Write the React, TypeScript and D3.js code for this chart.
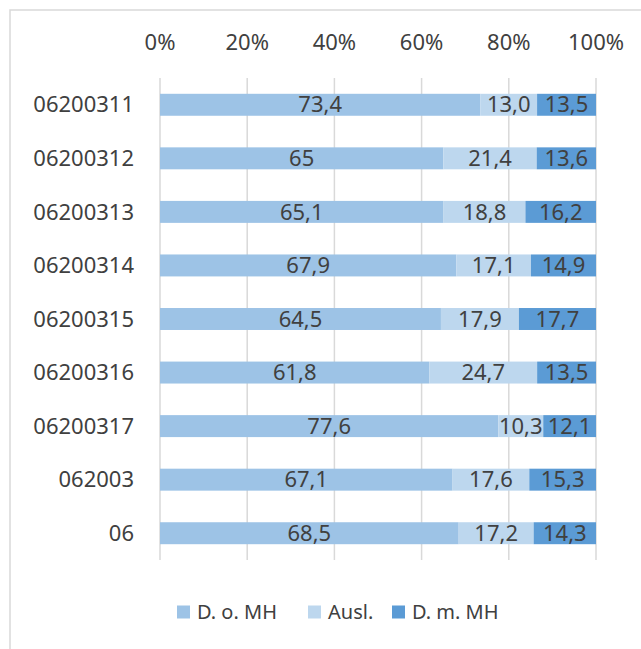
import React, { useEffect, useRef } from "react";
import * as d3 from "d3";

const categories = ["06200311", "06200312", "06200313", "06200314", "06200315", "06200316", "06200317", "062003", "06"];
const seriesNames = ["D. o. MH", "Ausl.", "D. m. MH"];
const ohneMH = [73.4, 65, 65.1, 67.9, 64.5, 61.8, 77.6, 67.1, 68.5];
const ausl = [13.0, 21.4, 18.8, 17.1, 17.9, 24.7, 10.3, 17.6, 17.2];
const mitMH = [13.5, 13.6, 16.2, 14.9, 17.7, 13.5, 12.1, 15.3, 14.3];
const labels = [
  ["73,4", "65", "65,1", "67,9", "64,5", "61,8", "77,6", "67,1", "68,5"],
  ["13,0", "21,4", "18,8", "17,1", "17,9", "24,7", "10,3", "17,6", "17,2"],
  ["13,5", "13,6", "16,2", "14,9", "17,7", "13,5", "12,1", "15,3", "14,3"],
];
const ticks = [0, 0.2, 0.4, 0.6, 0.8, 1];
const colors = ["#9dc3e6", "#bdd7ee", "#5b9bd5"];

const W = 641;
const H = 649;
const FONT = "'Noto Sans', sans-serif";
const TEXT = "#404040";

const App: React.FC = () => {
  const ref = useRef<SVGSVGElement>(null);

  useEffect(() => {
    if (!ref.current) return;
    const svg = d3.select(ref.current);
    svg.selectAll("*").remove();

    const rows = categories.map((c, i) => ({ cat: c, v: [ohneMH[i], ausl[i], mitMH[i]], i }));
    const x = d3.scaleLinear().domain([0, 1]).range([160, 596]);
    const y = d3.scaleBand().domain(categories).range([78, 560]).paddingInner(0.59).paddingOuter(0.295);

    // frame
    svg.append("rect").attr("x", 10).attr("y", 10).attr("width", W).attr("height", H)
      .attr("fill", "#fff").attr("stroke", "#d9d9d9").attr("stroke-width", 1.5);

    // grid
    svg.append("g").selectAll("line").data(ticks).join("line")
      .attr("x1", d => x(d)).attr("x2", d => x(d)).attr("y1", 78).attr("y2", 560)
      .attr("stroke", "#d9d9d9").attr("stroke-width", 1.5);

    // tick labels
    svg.append("g").selectAll("text").data(ticks).join("text")
      .attr("x", d => x(d)).attr("y", 42).attr("dy", "0.35em").attr("text-anchor", "middle")
      .attr("font-family", FONT).attr("font-size", 22).attr("fill", TEXT)
      .text(d => d3.format(".0%")(d));

    // category labels
    svg.append("g").selectAll("text").data(categories).join("text")
      .attr("x", 134).attr("y", d => y(d)! + y.bandwidth() / 2).attr("dy", "0.35em").attr("text-anchor", "end")
      .attr("font-family", FONT).attr("font-size", 22).attr("fill", TEXT)
      .text(d => d);

    const segs: { cat: string; s: number; x0: number; x1: number; label: string }[] = [];
    rows.forEach(r => {
      const total = d3.sum(r.v);
      let acc = 0;
      r.v.forEach((v, s) => {
        segs.push({ cat: r.cat, s, x0: acc / total, x1: (acc + v) / total, label: labels[s][r.i] });
        acc += v;
      });
    });

    svg.append("g").selectAll("rect").data(segs).join("rect")
      .attr("x", d => x(d.x0)).attr("width", d => x(d.x1) - x(d.x0))
      .attr("y", d => y(d.cat)!).attr("height", y.bandwidth())
      .attr("fill", d => colors[d.s]);

    svg.append("g").selectAll("text").data(segs).join("text")
      .attr("x", d => (x(d.x0) + x(d.x1)) / 2).attr("y", d => y(d.cat)! + y.bandwidth() / 2)
      .attr("dy", "0.35em").attr("text-anchor", "middle")
      .attr("font-family", FONT).attr("font-size", 22).attr("fill", TEXT)
      .text(d => d.label);

    // legend
    const legendX = [177, 308, 392];
    const lg = svg.append("g").selectAll("g").data(seriesNames).join("g")
      .attr("transform", (_, i) => `translate(${legendX[i]},612)`);
    lg.append("rect").attr("x", 0).attr("y", -6.5).attr("width", 13).attr("height", 13).attr("fill", (_, i) => colors[i]);
    lg.append("text").attr("x", 20).attr("dy", "0.35em")
      .attr("font-family", FONT).attr("font-size", 20).attr("fill", TEXT)
      .text(d => d);
  }, []);

  return <svg ref={ref} width={W} height={H} style={{ position: "absolute", left: 0, top: 0, display: "block" }} />;
};

export default App;
